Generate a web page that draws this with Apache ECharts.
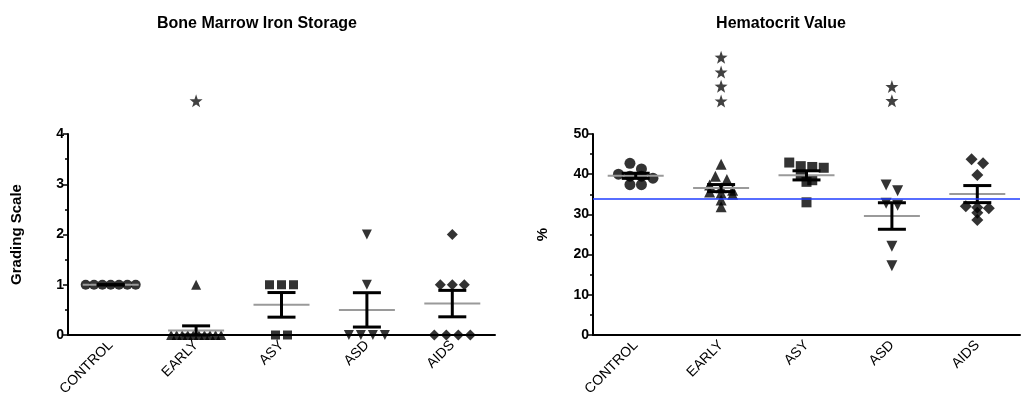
<!DOCTYPE html>
<html><head><meta charset="utf-8">
<script src="https://cdn.jsdelivr.net/npm/echarts@6/dist/echarts.min.js"></script>
<style>html,body{margin:0;padding:0;background:#fff}#c{width:1022px;height:406px}</style>
</head><body><div id="c"></div>
<script>
// ---------- data ----------
const categories = ['CONTROL', 'EARLY', 'ASY', 'ASD', 'AIDS'];
// Bone Marrow Iron Storage (grading scale)
const ironControl = [1, 1, 1, 1, 1, 1, 1];
const ironEarly = [1, 0, 0, 0, 0, 0, 0, 0, 0, 0, 0];
const ironAsy = [1, 1, 1, 0, 0];
const ironAsd = [2, 1, 0, 0, 0, 0];
const ironAids = [2, 1, 1, 1, 0, 0, 0, 0];
const ironStars = [[1, 4.66]];
const ironTicks = [0, 1, 2, 3, 4];
// Hematocrit Value (%)
const hctControl = [42.7, 41.3, 40.0, 39.5, 39.5, 39.0, 37.4, 37.4];
const hctEarly = [42.5, 39.5, 38.7, 37.3, 36.6, 36.0, 35.6, 35.3, 35.0, 33.6, 31.9];
const hctAsy = [42.9, 42.0, 41.8, 41.6, 39.8, 38.5, 38.1, 33.0];
const hctAsd = [37.3, 35.9, 32.8, 32.3, 22.1, 17.2];
const hctAids = [43.7, 42.7, 39.8, 32.0, 31.7, 31.5, 30.4, 28.6];
const hctStars = [[1, 69.1], [1, 65.4], [1, 61.9], [1, 58.2], [3, 61.8], [3, 58.3]];
const hctTicks = [0, 10, 20, 30, 40, 50];
const hctReference = 34.0;

// ---------- helpers ----------
const FONT = "'Liberation Sans', Arial, Helvetica, sans-serif";
const symbols = [
  {symbol: 'circle', rot: 0},
  {symbol: 'triangle', rot: 0},
  {symbol: 'rect', rot: 0},
  {symbol: 'triangle', rot: 180},
  {symbol: 'diamond', rot: 0}
];
const STAR = 'path://M0,-10L2.35,-3.24L9.51,-3.09L3.8,1.24L5.88,8.09L0,4.3L-5.88,8.09L-3.8,1.24L-9.51,-3.09L-2.35,-3.24Z';
const GRID_H = 201;

function mean(a) { return a.reduce((s, v) => s + v, 0) / a.length; }
function sem(a) {
  const m = mean(a);
  const v = a.reduce((s, x) => s + (x - m) * (x - m), 0) / (a.length - 1);
  return Math.sqrt(v) / Math.sqrt(a.length);
}
function spread(vals, ppu, tol, sp, maxW) {
  const idx = vals.map((v, i) => i).sort((a, b) => vals[b] - vals[a] || a - b);
  const rows = []; let cur = null;
  idx.forEach(i => {
    if (cur && (vals[cur[0]] - vals[i]) * ppu <= tol) cur.push(i);
    else { cur = [i]; rows.push(cur); }
  });
  const off = new Array(vals.length).fill(0);
  rows.forEach(r => {
    const n = r.length;
    const s = n > 1 ? Math.min(sp, maxW / (n - 1)) : 0;
    r.forEach((i, k) => { off[i] = (k - (n - 1) / 2) * s; });
  });
  return off;
}
function buildPoints(groups, ppu, tol, sp, maxW, size) {
  const pts = [];
  groups.forEach((g, ci) => {
    const off = spread(g, ppu, tol, sp, maxW);
    g.forEach((v, i) => {
      pts.push({
        value: [ci, v],
        symbol: symbols[ci].symbol,
        symbolRotate: symbols[ci].rot,
        symbolSize: symbols[ci].symbol === 'diamond' ? size + 1 : (symbols[ci].symbol === 'rect' ? size - 1 : size),
        symbolOffset: [off[i], 0]
      });
    });
  });
  return pts;
}
function renderStats(params, api) {
  const m = api.value(1), s = api.value(2), ci = api.value(0);
  const c = api.coord([ci, m]);
  const t = api.coord([ci, m + s]);
  const b = api.coord([ci, m - s]);
  return {
    type: 'group',
    children: [
      {type: 'line', shape: {x1: c[0] - 28, y1: c[1], x2: c[0] + 28, y2: c[1]}, style: {stroke: '#9a9a9a', lineWidth: 2}},
      {type: 'line', shape: {x1: c[0], y1: t[1], x2: c[0], y2: b[1]}, style: {stroke: '#000', lineWidth: 3}},
      {type: 'line', shape: {x1: c[0] - 14, y1: t[1], x2: c[0] + 14, y2: t[1]}, style: {stroke: '#000', lineWidth: 3}},
      {type: 'line', shape: {x1: c[0] - 14, y1: b[1], x2: c[0] + 14, y2: b[1]}, style: {stroke: '#000', lineWidth: 3}}
    ]
  };
}

const ironGroups = [ironControl, ironEarly, ironAsy, ironAsd, ironAids];
const hctGroups = [hctControl, hctEarly, hctAsy, hctAsd, hctAids];
const ironMax = ironTicks[ironTicks.length - 1];
const hctMax = hctTicks[hctTicks.length - 1];

function xAxisCfg(gi) {
  return {
    type: 'category', gridIndex: gi, data: categories, boundaryGap: true,
    axisLine: {lineStyle: {color: '#000', width: 2}},
    axisTick: {alignWithLabel: true, length: 5, lineStyle: {color: '#000', width: 2}},
    axisLabel: {rotate: 45, color: '#000', fontFamily: FONT, fontSize: 14, margin: 8}
  };
}
function yAxisCfg(gi, ticks, name, gap) {
  return {
    type: 'value', gridIndex: gi, min: ticks[0], max: ticks[ticks.length - 1],
    interval: ticks[1] - ticks[0],
    name: name, nameLocation: 'middle', nameGap: gap, nameRotate: 90,
    nameTextStyle: {color: '#000', fontFamily: FONT, fontSize: 15, fontWeight: 'bold'},
    axisLine: {show: true, lineStyle: {color: '#000', width: 2}},
    axisTick: {show: true, length: 5, lineStyle: {color: '#000', width: 1.5}},
    minorTick: {show: true, splitNumber: 2, length: 3, lineStyle: {color: '#000', width: 1.5}},
    splitLine: {show: false},
    axisLabel: {color: '#000', fontFamily: FONT, fontSize: 14, fontWeight: 'bold', margin: 4}
  };
}

const chart = echarts.init(document.getElementById('c'), null, {renderer: 'canvas'});
const option = {
  animation: false,
  backgroundColor: '#fff',
  title: [
    {text: 'Bone Marrow Iron Storage', left: 252, top: 11, textAlign: 'center',
     textStyle: {fontFamily: FONT, fontSize: 16, fontWeight: 'bold', color: '#000'}},
    {text: 'Hematocrit Value', left: 776, top: 11, textAlign: 'center',
     textStyle: {fontFamily: FONT, fontSize: 16, fontWeight: 'bold', color: '#000'}}
  ],
  grid: [
    {left: 68, top: 134, width: 427, height: GRID_H},
    {left: 593, top: 134, width: 427, height: GRID_H}
  ],
  xAxis: [xAxisCfg(0), xAxisCfg(1)],
  yAxis: [yAxisCfg(0, ironTicks, 'Grading Scale', 44), yAxisCfg(1, hctTicks, '%', 43)],
  series: [
    {type: 'scatter', xAxisIndex: 0, yAxisIndex: 0, z: 2,
     itemStyle: {color: '#000'},
     data: buildPoints(ironGroups, GRID_H / ironMax, 4, 12, 50, 10)},
    {type: 'custom', xAxisIndex: 0, yAxisIndex: 0, z: 3, renderItem: renderStats,
     data: ironGroups.map((g, i) => [i, mean(g), sem(g)])},
    {type: 'scatter', xAxisIndex: 0, yAxisIndex: 0, z: 2, clip: false,
     symbol: STAR, symbolSize: 13, itemStyle: {color: '#111'}, data: ironStars},
    {type: 'scatter', xAxisIndex: 1, yAxisIndex: 1, z: 2,
     itemStyle: {color: '#000'},
     data: buildPoints(hctGroups, GRID_H / hctMax, 6, 11.5, 46, 11),
     markLine: {silent: true, symbol: 'none', label: {show: false},
       lineStyle: {color: '#1f3cff', width: 1.5, type: 'solid'},
       data: [{yAxis: hctReference}]}},
    {type: 'custom', xAxisIndex: 1, yAxisIndex: 1, z: 3, renderItem: renderStats,
     data: hctGroups.map((g, i) => [i, mean(g), sem(g)])},
    {type: 'scatter', xAxisIndex: 1, yAxisIndex: 1, z: 2, clip: false,
     symbol: STAR, symbolSize: 13, itemStyle: {color: '#111'}, data: hctStars}
  ]
};
chart.setOption(option);
</script>
</body></html>
